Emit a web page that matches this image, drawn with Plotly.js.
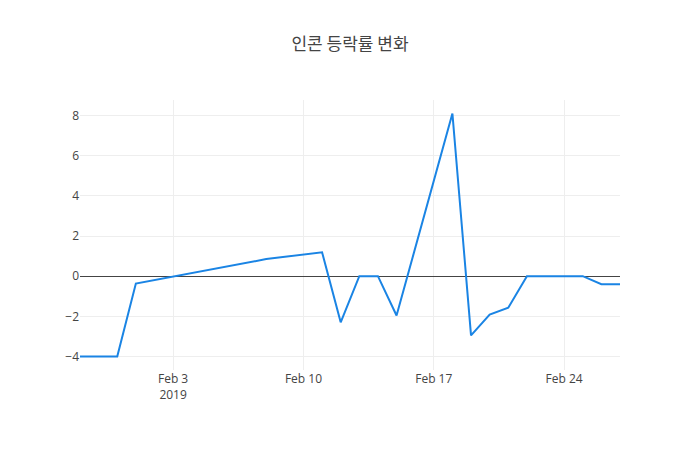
<!DOCTYPE html>
<html>
<head>
<meta charset="utf-8">
<script src="https://cdn.plot.ly/plotly-3.0.1.min.js"></script>
<style>
  html, body { margin: 0; padding: 0; background: #fff; }
  #chart { width: 700px; height: 450px; }
</style>
</head>
<body>
<div id="chart"></div>
<script>
// trading days
var dates = [
  '2019-01-29', '2019-01-31', '2019-02-01', '2019-02-08', '2019-02-11',
  '2019-02-12', '2019-02-13', '2019-02-14', '2019-02-15', '2019-02-18',
  '2019-02-19', '2019-02-20', '2019-02-21', '2019-02-22', '2019-02-25',
  '2019-02-26', '2019-02-27'
];
var changes = [
  -4.0, -4.0, -0.37, 0.85, 1.19,
  -2.3, 0.0, 0.0, -1.96, 8.1,
  -2.95, -1.91, -1.57, 0.0, 0.0,
  -0.4, -0.4
];

var chartTitle = '인콘 등락률 변화';

var trace = {
  x: dates,
  y: changes,
  type: 'scatter',
  mode: 'lines',
  line: {color: '#1a84e4', width: 2}
};

var layout = {
  width: 700,
  height: 450,
  title: {
    text: chartTitle,
    font: {family: '"Noto Sans CJK KR", "Open Sans", sans-serif', size: 17, color: '#444'}
  },
  font: {family: '"Open Sans", sans-serif', size: 12, color: '#444'},
  xaxis: {
    type: 'date',
    showgrid: true,
    gridcolor: '#eee'
  },
  yaxis: {
    gridcolor: '#eee',
    zeroline: true,
    zerolinecolor: '#444',
    zerolinewidth: 1
  },
  plot_bgcolor: '#fff',
  paper_bgcolor: '#fff'
};

Plotly.newPlot('chart', [trace], layout, {displayModeBar: false});
</script>
</body>
</html>
